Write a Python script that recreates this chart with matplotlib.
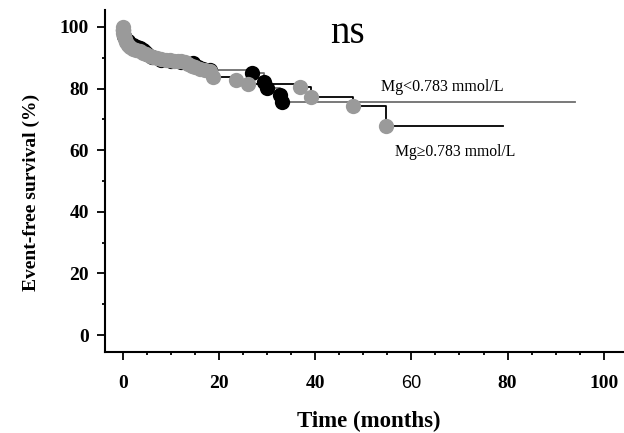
import numpy as np
import matplotlib
matplotlib.use('Agg')
import matplotlib.pyplot as plt
from matplotlib.ticker import MultipleLocator

serif = ['Liberation Serif', 'DejaVu Serif']

# Mg < 0.783 mmol/L (upper curve: grey line, black dots)
low_t = [0, 0.3, 1.0, 2.1, 3.0, 3.6, 4.2, 4.7, 5.0, 6.0, 8.0, 10.0, 12.0, 14.6,
         15.6, 16.6, 18.1, 26.8, 29.3, 29.9, 32.6, 33.0]
low_s = [99.0, 97.2, 95.4, 94.3, 93.6, 93.2, 92.6, 91.8, 91.2, 90.2, 89.4, 89.0, 88.6, 88.4,
         87.0, 86.3, 86.0, 85.0, 82.2, 80.1, 77.9, 75.8]
low_end = 94

# Mg >= 0.783 mmol/L (lower curve: black line, grey dots)
high_t = [0, 0.05, 0.1, 0.2, 0.4, 0.7, 1.1, 1.6, 2.1, 2.8, 3.5, 4.2, 4.9, 5.6, 6.3,
          7.2, 8.0, 8.9, 9.8, 10.6, 11.5, 12.2, 12.9, 13.6, 14.3, 15.1, 16.0, 17.0,
          18.1, 18.8, 23.6, 26.1, 36.8, 39.2, 47.8, 54.8]
high_s = [100, 99.0, 98.0, 97.0, 96.0, 95.2, 94.2, 93.5, 93.0, 92.6, 92.2, 91.7, 91.2, 90.7, 90.3,
          89.9, 89.6, 89.4, 89.2, 89.1, 89.0, 88.8, 88.5, 88.0, 87.4, 86.9, 86.4, 86.0,
          85.6, 83.6, 82.8, 81.6, 80.6, 77.2, 74.2, 68.0]
high_end = 79

x_ticks = [0, 20, 40, 60, 80, 100]
y_ticks = [0, 20, 40, 60, 80, 100]

fig = plt.figure(figsize=(6.24, 4.33), dpi=100)
ax = fig.add_axes([105/624, 1 - 352/433, 519/624, 342/433])

grey_dot = '#9a9a9a'
grey_line = '#6e6e6e'

# step lines
ax.step(np.r_[low_t, low_end], np.r_[low_s, low_s[-1]], where='post',
        color=grey_line, lw=1.3, zorder=2)
ax.step(np.r_[high_t, high_end], np.r_[high_s, high_s[-1]], where='post',
        color='black', lw=1.3, zorder=2)

# markers
ax.plot(low_t, low_s, 'o', color='black', ms=11, mew=0, zorder=3)
ax.plot(high_t, high_s, 'o', color=grey_dot, ms=11, mew=0, zorder=4)

ax.set_xlim(-3.7, 104.2)
ax.set_ylim(-5.5, 105.5)

for s in ['top', 'right']:
    ax.spines[s].set_visible(False)
for s in ['left', 'bottom']:
    ax.spines[s].set_linewidth(1.5)

ax.set_xticks(x_ticks)
ax.set_yticks(y_ticks)
ax.xaxis.set_minor_locator(MultipleLocator(5))
ax.yaxis.set_minor_locator(MultipleLocator(10))
ax.tick_params(which='major', direction='out', length=5.5, width=1.3)
ax.tick_params(which='minor', direction='out', length=2.5, width=1.3)
ax.tick_params(axis='x', which='major', pad=11)
ax.tick_params(axis='y', which='major', pad=6)

ax.set_xticklabels([str(v) for v in x_ticks], family=serif, fontweight='bold', fontsize=14)
ax.set_yticklabels([str(v) for v in y_ticks], family=serif, fontweight='bold', fontsize=14)
# the "60" label on the original is set in a sans face
lbl60 = ax.get_xticklabels()[3]
lbl60.set_family(['Liberation Sans', 'DejaVu Sans'])
lbl60.set_fontweight('normal')
lbl60.set_fontsize(13)

ax.set_xlabel('Time (months)', family=serif, fontweight='bold', fontsize=16.5, va='top')
ax.xaxis.set_label_coords(0.509, -0.172)
ax.set_ylabel('Event-free survival (%)', family=serif, fontweight='bold', fontsize=14)
ax.yaxis.set_label_coords(-0.125, 0.466)

ax.text(46.8, 94.8, 'ns', family=serif, fontsize=28, ha='center', va='baseline')
ax.text(53.6, 79.2, 'Mg<0.783 mmol/L', family=serif, fontsize=11.5, ha='left', va='baseline')
ax.text(56.5, 58.1, 'Mg\u22650.783 mmol/L', family=serif, fontsize=11.3, ha='left', va='baseline')

fig.savefig('out.png', dpi=100)
